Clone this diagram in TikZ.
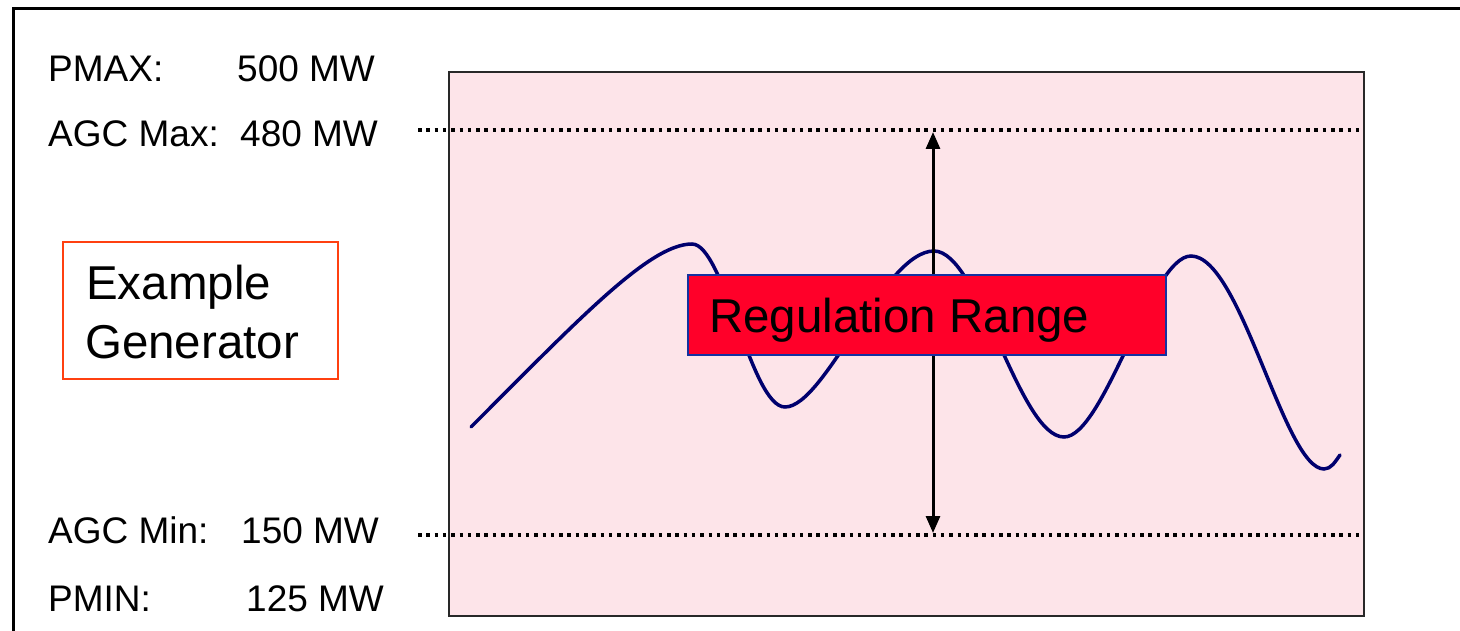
\documentclass[tikz,border=0pt]{standalone}
\usepackage{fontspec}
\setmainfont{Liberation Sans}
\usetikzlibrary{arrows.meta}
\definecolor{pinkbg}{RGB}{253,228,233}
\definecolor{regred}{RGB}{255,0,41}
\definecolor{regblue}{RGB}{20,50,160}
\definecolor{curvenavy}{RGB}{0,0,110}
\definecolor{genorange}{RGB}{255,64,16}
\definecolor{framegray}{RGB}{40,40,40}
\begin{document}
\begin{tikzpicture}[x=1pt,y=-1pt,
  lbl/.style={anchor=base west, inner sep=0pt, font=\fontsize{37}{44}\selectfont},
  biglbl/.style={anchor=base west, inner sep=0pt, font=\fontsize{47.5}{56}\selectfont},
  dotline/.style={line width=3.5pt, dash pattern=on 3.5pt off 4.8pt},
  curvestyle/.style={draw=curvenavy, line width=3.5pt, line cap=round},
  rangearrow/.style={line width=3pt, {Triangle[width=14pt,length=17pt]}-{Triangle[width=14pt,length=17pt]}}
]
\useasboundingbox (0,0) rectangle (1460,631);
\fill[white] (0,0) rectangle (1460,631);
% outer frame
\draw[line width=3pt] (1475,9) -- (13,9) -- (13,645);
% plot area
\node[draw=framegray, line width=2pt, fill=pinkbg, minimum width=915pt, minimum height=544pt, inner sep=0pt, anchor=north west] (plot) at (448,71) {};
% dotted limit lines
\coordinate (maxL) at (418,130);
\coordinate (maxR) at (1362,130);
\coordinate (minL) at (418,535);
\coordinate (minR) at (1362,535);
\draw[dotline] (maxL) -- (maxR);
\draw[dotline] (minL) -- (minR);
% signal curve
\draw[curvestyle] (471,427) .. controls (581,317) and (650,244) .. (692,244)
  .. controls (724,244) and (751,407) .. (785,407)
  .. controls (825,407) and (884,251) .. (934,251)
  .. controls (979,251) and (1019,437) .. (1064,437)
  .. controls (1104,437) and (1151,256) .. (1191,256)
  .. controls (1241,256) and (1284,469) .. (1324,469)
  .. controls (1331,469) and (1335,462) .. (1340,455);
% range arrow
\coordinate (aTop) at (933,132);
\coordinate (aBot) at (933,533);
\draw[rangearrow] (aTop) -- (aBot);
% regulation range box
\node[draw=regblue, line width=2pt, fill=regred, minimum width=478pt, minimum height=80pt, inner sep=0pt, anchor=north west] (regbox) at (687,274) {};
\node[biglbl] (reglbl) at (709,332) {Regulation Range};
% example generator box
\node[draw=genorange, line width=2pt, minimum width=275pt, minimum height=137pt, inner sep=0pt, anchor=north west] (genbox) at (62,241) {};
\node[biglbl] (gen1) at (86,299) {Example};
\node[biglbl] (gen2) at (85,358) {Generator};
% labels
\node[lbl] (pmaxL) at (48,82) {PMAX:};
\node[lbl] (pmaxV) at (237,82) {500 MW};
\node[lbl] (agcmaxL) at (48,147) {AGC Max:};
\node[lbl] (agcmaxV) at (240,147) {480 MW};
\node[lbl] (agcminL) at (48,543) {AGC Min:};
\node[lbl] (agcminV) at (241,543) {150 MW};
\node[lbl] (pminL) at (48,611) {PMIN:};
\node[lbl] (pminV) at (246,611) {125 MW};
\end{tikzpicture}
\end{document}
